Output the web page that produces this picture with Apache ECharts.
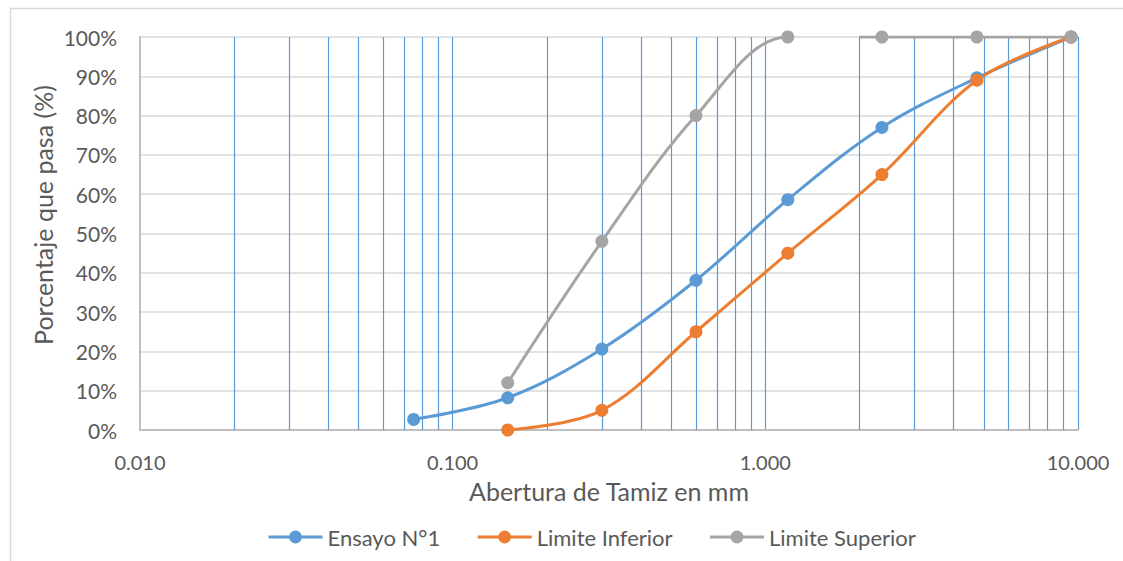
<!DOCTYPE html>
<html>
<head>
<meta charset="utf-8">
<script src="https://cdn.jsdelivr.net/npm/echarts@6/dist/echarts.min.js"></script>
<style>
  html, body { margin: 0; padding: 0; background: #ffffff; }
  #chart { width: 1123px; height: 561px; }
</style>
</head>
<body>
<div id="chart"></div>
<script>
// Sieve openings (mm) and percent passing
const sieveSizes = [0.075, 0.15, 0.3, 0.6, 1.18, 2.36, 4.75, 9.5];
const ensayo1 = [2.7, 8.2, 20.6, 38.1, 58.6, 77.0, 89.6, 100];
const limiteInferiorSizes = [0.15, 0.3, 0.6, 1.18, 2.36, 4.75, 9.5];
const limiteInferior = [0, 5, 25, 45, 65, 89, 100];
const limiteSuperiorSizes = [0.15, 0.3, 0.6, 1.18, 2.36, 4.75, 9.5];
const limiteSuperior = [12, 48, 80, 100, 100, 100, 100];

// Intermediate log-cycle grid lines (2..9 within each decade)
const minorGridValues = [
  0.02, 0.03, 0.04, 0.05, 0.06, 0.07, 0.08, 0.09,
  0.2, 0.3, 0.4, 0.5, 0.6, 0.7, 0.8, 0.9,
  2, 3, 4, 5, 6, 7, 8, 9
];

const seriesNames = ['Ensayo N°1', 'Limite Inferior', 'Limite Superior'];
const seriesColors = ['#5B9BD5', '#ED7D31', '#A5A5A5'];

const FONT = 'Lato, "Open Sans", sans-serif';
const TEXT = '#595959';

function pairs(xs, ys) {
  return xs.map((x, i) => [x, ys[i]]);
}

function lineSeries(name, color, data, extra) {
  return Object.assign({
    name: name,
    type: 'line',
    data: data,
    color: color,
    smooth: 0.35,
    symbol: 'circle',
    symbolSize: 13,
    lineStyle: { width: 3 },
    z: 5
  }, extra || {});
}

const chart = echarts.init(document.getElementById('chart'), null, { renderer: 'svg' });

chart.setOption({
  animation: false,
  backgroundColor: '#ffffff',
  textStyle: { fontFamily: FONT },
  grid: {
    left: 140, right: 45, top: 37, bottom: 131,
    outerBoundsMode: 'none'
  },
  graphic: [
    {
      type: 'rect',
      left: 8, top: 6,
      shape: { width: 1140, height: 600 },
      style: { fill: 'none', stroke: '#D9D9D9', lineWidth: 1.5 },
      silent: true
    },
    {
      type: 'text',
      x: 43, y: 215,
      rotation: Math.PI / 2,
      style: {
        text: 'Porcentaje que pasa (%)',
        fill: TEXT,
        font: '25px ' + FONT,
        align: 'center',
        verticalAlign: 'middle'
      },
      silent: true
    }
  ],
  // The upper limit curve rises past 100% between 1.18 and 2 mm and is clipped at the top edge
  visualMap: {
    show: false,
    type: 'piecewise',
    seriesIndex: 2,
    dimension: 0,
    pieces: [
      { min: 0.1, max: 1.19, color: seriesColors[2] },
      { min: 1.19, max: 2.0, color: 'rgba(165,165,165,0)' },
      { min: 2.0, max: 10, color: seriesColors[2] }
    ]
  },
  legend: {
    data: seriesNames,
    bottom: 8,
    left: 262,
    itemWidth: 54,
    itemHeight: 16,
    itemGap: 36,
    lineStyle: { width: 3 },
    textStyle: { color: TEXT, fontSize: 22, fontFamily: FONT }
  },
  xAxis: {
    type: 'log',
    logBase: 10,
    min: 0.01,
    max: 10,
    name: 'Abertura de Tamiz en mm',
    nameLocation: 'middle',
    nameGap: 48,
    nameTextStyle: { color: TEXT, fontSize: 25, fontFamily: FONT },
    axisLine: { show: true, onZero: false, lineStyle: { color: '#BFBFBF', width: 2 } },
    axisTick: { show: false },
    axisLabel: {
      color: TEXT, fontSize: 20, fontFamily: FONT, margin: 22,
      formatter: v => Number(v).toFixed(3)
    },
    splitLine: { show: true, showMinLine: false, lineStyle: { color: '#5B9BD5', width: 1.2 } },
    minorTick: { show: false },
    minorSplitLine: { show: false }
  },
  yAxis: {
    type: 'value',
    min: 0,
    max: 100,
    interval: 10,
    axisLine: { show: true, lineStyle: { color: '#BFBFBF', width: 2 } },
    axisTick: { show: false },
    axisLabel: {
      color: TEXT, fontSize: 21, fontFamily: FONT, margin: 23,
      formatter: v => v + '%'
    },
    splitLine: { show: true, lineStyle: { color: '#D9D9D9', width: 1.5 } }
  },
  series: [
    lineSeries(seriesNames[0], seriesColors[0], pairs(sieveSizes, ensayo1), {
      markLine: {
        silent: true,
        symbol: ['none', 'none'],
        label: { show: false },
        lineStyle: { color: '#5B9BD5', width: 1.2, type: 'solid' },
        emphasis: { disabled: true },
        z: 1,
        data: minorGridValues.map(v => ({ xAxis: v }))
      }
    }),
    lineSeries(seriesNames[1], seriesColors[1], pairs(limiteInferiorSizes, limiteInferior)),
    lineSeries(seriesNames[2], seriesColors[2], pairs(limiteSuperiorSizes, limiteSuperior))
  ]
});
</script>
</body>
</html>
